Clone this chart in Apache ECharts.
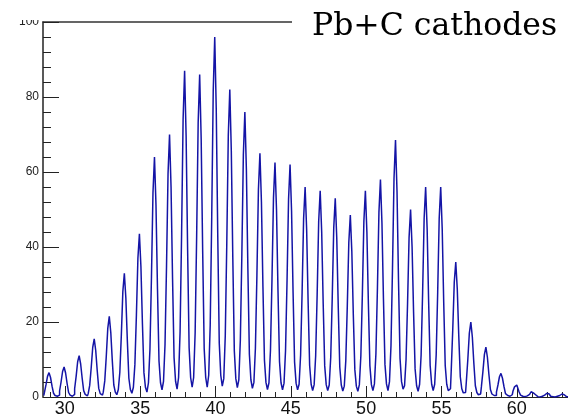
<!DOCTYPE html>
<html>
<head>
<meta charset="utf-8">
<script src="https://cdn.jsdelivr.net/npm/echarts@6/dist/echarts.min.js"></script>
<style>
  html, body { margin: 0; padding: 0; background: #fff; }
  #chart { width: 568px; height: 418px; }
</style>
</head>
<body>
<div id="chart"></div>
<script>
// histogram bins: width 0.1, first bin centred at 28.6
const binStart = 28.6;
const binWidth = 0.1;
// counts, one row per peak (29 ... 63), bins from n-0.4 to n+0.5
const counts = [
  0.4, 1.3, 3.3, 5.5, 6.5, 5.2, 2.9, 1.0, 0.4, 0.2,        // 29
  0.5, 1.6, 4.0, 6.8, 8.0, 6.4, 3.6, 1.2, 0.5, 0.2,        // 30
  0.7, 2.2, 5.5, 9.4, 11.0, 8.8, 5.0, 1.7, 0.7, 0.3,       // 31
  0.9, 3.1, 7.8, 13.2, 15.5, 12.4, 7.0, 2.3, 0.9, 0.5,     // 32
  1.3, 4.3, 10.8, 18.3, 21.5, 17.2, 9.7, 3.2, 1.3, 0.6,    // 33
  2.0, 6.6, 16.5, 28.1, 33.0, 26.4, 14.9, 5.0, 2.0, 1.0,   // 34
  2.6, 8.7, 21.8, 37.0, 43.5, 34.8, 19.6, 6.5, 2.6, 1.3,   // 35
  3.8, 12.8, 32.0, 54.4, 64.0, 51.2, 28.8, 9.6, 3.8, 1.9,  // 36
  4.2, 14.0, 35.0, 59.5, 70.0, 56.0, 31.5, 10.5, 4.2, 2.1, // 37
  5.2, 17.4, 43.5, 74.0, 87.0, 69.6, 39.2, 13.1, 5.2, 2.6, // 38
  5.2, 17.2, 43.0, 73.1, 86.0, 68.8, 38.7, 12.9, 5.2, 2.6, // 39
  5.8, 19.2, 48.0, 81.6, 96.0, 76.8, 43.2, 14.4, 5.8, 2.9, // 40
  4.9, 16.4, 41.0, 69.7, 82.0, 65.6, 36.9, 12.3, 4.9, 2.5, // 41
  4.6, 15.2, 38.0, 64.6, 76.0, 60.8, 34.2, 11.4, 4.6, 2.3, // 42
  3.9, 13.0, 32.5, 55.3, 65.0, 52.0, 29.3, 9.8, 3.9, 2.0,  // 43
  3.8, 12.5, 31.3, 53.1, 62.5, 50.0, 28.1, 9.4, 3.8, 1.9,  // 44
  3.7, 12.4, 31.0, 52.7, 62.0, 49.6, 27.9, 9.3, 3.7, 1.9,  // 45
  3.4, 11.2, 28.0, 47.6, 56.0, 44.8, 25.2, 8.4, 3.4, 1.7,  // 46
  3.3, 11.0, 27.5, 46.8, 55.0, 44.0, 24.8, 8.3, 3.3, 1.7,  // 47
  3.2, 10.6, 26.5, 45.1, 53.0, 42.4, 23.9, 8.0, 3.2, 1.6,  // 48
  2.9, 9.7, 24.3, 41.2, 48.5, 38.8, 21.8, 7.3, 2.9, 1.5,   // 49
  3.3, 11.0, 27.5, 46.8, 55.0, 44.0, 24.8, 8.3, 3.3, 1.7,  // 50
  3.5, 11.6, 29.0, 49.3, 58.0, 46.4, 26.1, 8.7, 3.5, 1.7,  // 51
  4.1, 13.7, 34.3, 58.2, 68.5, 54.8, 30.8, 10.3, 4.1, 2.1, // 52
  3.0, 10.0, 25.0, 42.5, 50.0, 40.0, 22.5, 7.5, 3.0, 1.5,  // 53
  3.4, 11.2, 28.0, 47.6, 56.0, 44.8, 25.2, 8.4, 3.4, 1.7,  // 54
  3.4, 11.2, 28.0, 47.6, 56.0, 44.8, 25.2, 8.4, 3.4, 1.7,  // 55
  2.2, 7.2, 18.0, 30.6, 36.0, 28.8, 16.2, 5.4, 2.2, 1.1,   // 56
  1.2, 4.0, 10.0, 17.0, 20.0, 16.0, 9.0, 3.0, 1.2, 0.6,    // 57
  0.8, 2.7, 6.7, 11.3, 13.3, 10.6, 6.0, 2.0, 0.8, 0.4,     // 58
  0.4, 1.3, 3.2, 5.4, 6.3, 5.0, 2.8, 0.9, 0.4, 0.2,        // 59
  0.2, 0.6, 1.6, 2.7, 3.2, 2.6, 1.4, 0.5, 0.2, 0.1,        // 60
  0.1, 0.3, 0.7, 1.2, 1.4, 1.1, 0.6, 0.2, 0.1, 0.0,        // 61
  0.1, 0.2, 0.5, 0.9, 1.0, 0.8, 0.5, 0.2, 0.1, 0.0,        // 62
  0.0, 0.2, 0.4, 0.7, 0.8, 0.6, 0.4, 0.1, 0.0, 0.0         // 63
];
const xMajorTicks = [30, 35, 40, 45, 50, 55, 60];
const xMinorTicks = [29, 30, 31, 32, 33, 34, 35, 36, 37, 38, 39, 40, 41, 42, 43, 44, 45, 46,
  47, 48, 49, 50, 51, 52, 53, 54, 55, 56, 57, 58, 59, 60, 61, 62, 63];
const titleText = 'Pb+C cathodes';

const chart = echarts.init(document.getElementById('chart'));

const histData = counts.map(function (c, i) {
    return [binStart + i * binWidth, c];
});

const axisColor = '#222';
const xMin = 28.55, xMax = 63.4;

const option = {
    animation: false,
    backgroundColor: '#fff',
    title: {
        text: titleText,
        left: 292,
        top: 0,
        padding: [11, 20, 9, 20],
        backgroundColor: '#fff',
        textStyle: {
            fontFamily: 'DejaVu Serif',
            fontSize: 31.5,
            fontWeight: 'normal',
            color: '#000',
            lineHeight: 32
        }
    },
    grid: { left: 43, right: 0, top: 22, bottom: 20 },
    xAxis: [
        {
            type: 'value', min: xMin, max: xMax, position: 'bottom',
            splitLine: { show: false },
            axisLine: { show: true, lineStyle: { color: axisColor, width: 1 } },
            axisTick: { show: true, inside: true, length: 11, customValues: xMajorTicks,
                lineStyle: { color: axisColor } },
            axisLabel: { show: true, customValues: xMajorTicks, margin: 3, fontSize: 18,
                fontFamily: 'Liberation Sans', color: '#111' }
        },
        {
            type: 'value', min: xMin, max: xMax, position: 'bottom',
            splitLine: { show: false },
            axisLine: { show: false },
            axisTick: { show: true, inside: true, length: 5, customValues: xMinorTicks,
                lineStyle: { color: axisColor } },
            axisLabel: { show: false }
        },
        {
            type: 'value', min: xMin, max: xMax, position: 'top',
            splitLine: { show: false },
            axisLine: { show: true, lineStyle: { color: '#333', width: 1.5 } },
            axisTick: { show: false },
            axisLabel: { show: false }
        }
    ],
    yAxis: {
        type: 'value', min: 0, max: 100, interval: 20,
        splitLine: { show: false },
        axisLine: { show: true, lineStyle: { color: axisColor, width: 1.5 } },
        axisTick: { show: true, inside: true, length: 16, lineStyle: { color: axisColor } },
        minorTick: { show: true, splitNumber: 5, length: 8, lineStyle: { color: axisColor } },
        axisLabel: { margin: 4, fontSize: 12, fontFamily: 'Liberation Sans', color: '#222' }
    },
    graphic: [
        { type: 'rect', shape: { x: 0, y: 0, width: 43, height: 20 },
          style: { fill: '#fff' }, z: 100 }
    ],
    series: [
        {
            type: 'line',
            xAxisIndex: 0,
            data: histData,
            step: 'middle',
            showSymbol: false,
            lineStyle: { color: '#1414a6', width: 1.5 }
        }
    ]
};

chart.setOption(option);
window.addEventListener('resize', function () {
    chart.resize();
});
</script>
</body>
</html>
